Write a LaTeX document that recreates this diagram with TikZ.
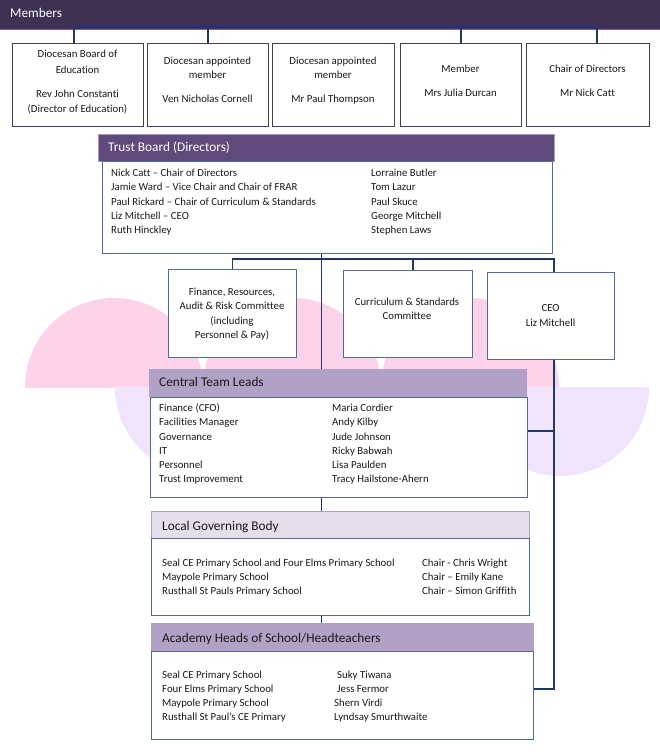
\documentclass[tikz,border=0pt]{standalone}
\usepackage{fontspec}
\setmainfont{Carlito}[Ligatures=NoCommon]
\usetikzlibrary{calc}
\definecolor{memb}{RGB}{63,49,81}
\definecolor{membedge}{RGB}{128,90,180}
\definecolor{mboxedge}{RGB}{70,62,88}
\definecolor{tbhead}{RGB}{96,74,123}
\definecolor{lilac}{RGB}{178,161,199}
\definecolor{lilacedge}{RGB}{170,150,200}
\definecolor{pale}{RGB}{229,223,236}
\definecolor{pinkbg}{RGB}{252,211,233}
\definecolor{lavbg}{RGB}{239,228,252}
\definecolor{conn}{RGB}{31,56,104}
\definecolor{edge}{RGB}{80,106,150}
\definecolor{bodytext}{RGB}{25,25,25}
\newcommand\bodyfont{\fontsize{10.8}{14}\selectfont}
\newcommand\headfont{\fontsize{13.3}{16}\selectfont}
\begin{document}
\begin{tikzpicture}[x=1pt,y=-1pt,
  bt/.style={font=\bodyfont, text=bodytext, inner sep=0pt, anchor=base west},
  ct/.style={font=\bodyfont, text=bodytext, inner sep=0pt, anchor=base},
  ht/.style={font=\headfont, inner sep=0pt, anchor=base west},
  panel/.style={draw=edge, line width=1pt, fill=white, inner sep=0pt, anchor=north west},
  mbox/.style={draw=mboxedge, line width=1pt, fill=white, inner sep=0pt, anchor=north west},
  headbar/.style={inner sep=0pt, anchor=north west},
  link/.style={draw=conn, line width=1.1pt}]
\useasboundingbox (0,0) rectangle (660,752);
\fill[white] (0,0) rectangle (660,752);
% background semicircles
\begin{scope}
  \clip (0,0) rectangle (660,387);
  \foreach \cx in {114,292,470} \fill[pinkbg] (\cx,387) circle[radius=89];
\end{scope}
\begin{scope}
  \clip (0,387) rectangle (660,752);
  \foreach \cx in {204,382,560} \fill[lavbg] (\cx,387) circle[radius=89];
\end{scope}
% Members
\node[headbar, fill=memb, draw=membedge, line width=1.2pt, minimum width=662, minimum height=30] (members) at (-1,-1) {};
\node[ht, text=white] (memberst) at (10,17.7) {Members};
\node[mbox, minimum width=131, minimum height=83] (m1) at (12,43) {};
\node[mbox, minimum width=121, minimum height=83] (m2) at (147,43) {};
\node[mbox, minimum width=122, minimum height=83] (m3) at (272,43) {};
\node[mbox, minimum width=121, minimum height=83] (m4) at (400,43) {};
\node[mbox, minimum width=123, minimum height=83] (m5) at (526,43) {};
\node[ct] (m1a) at (77.5,57.6) {Diocesan Board of};
\node[ct] (m1b) at (77.5,73.1) {Education};
\node[ct] (m1c) at (77.5,97.6) {Rev John Constanti};
\node[ct] (m1d) at (77.5,112.6) {(Director of Education)};
\node[ct] (m2a) at (207.5,64.6) {Diocesan appointed};
\node[ct] (m2b) at (207.5,78.6) {member};
\node[ct] (m2c) at (207.5,102.6) {Ven Nicholas Cornell};
\node[ct] (m3a) at (333,64.6) {Diocesan appointed};
\node[ct] (m3b) at (333,78.6) {member};
\node[ct] (m3c) at (333,102.6) {Mr Paul Thompson};
\node[ct] (m4a) at (460.5,72.6) {Member};
\node[ct] (m4b) at (460.5,96.6) {Mrs Julia Durcan};
\node[ct] (m5a) at (587.5,72.6) {Chair of Directors};
\node[ct] (m5b) at (587.5,96.6) {Mr Nick Catt};
\coordinate (railL) at (74,27);
\coordinate (railR) at (597,27);
\draw[link] (railL) -- (railR);
\draw[link] (railL) -- (railL |- m1.north);
\draw[link] (m2.north |- railL) -- (m2.north);
\draw[link] (m4.north |- railL) -- (m4.north);
\draw[link] (railR) -- (railR |- m5.north);
% Trust Board
\node[headbar, fill=tbhead, draw=lilacedge, line width=1pt, minimum width=456, minimum height=27] (tbh) at (98,134) {};
\node[ht, text=white] (tbht) at (108,151.4) {Trust Board (Directors)};
\node[panel, minimum width=450, minimum height=92] (tb) at (102,161) {};
\foreach [count=\i] \t in {Nick Catt – Chair of Directors, Jamie Ward – Vice Chair and Chair of FRAR, Paul Rickard – Chair of Curriculum \& Standards, Liz Mitchell – CEO, Ruth Hinckley}
  \node[bt] (tbl\i) at (111,{176.6+14.3*(\i-1)}) {\t};
\foreach [count=\i] \t in {Lorraine Butler, Tom Lazur, Paul Skuce, George Mitchell, Stephen Laws}
  \node[bt] (tbr\i) at (371,{176.6+14.3*(\i-1)}) {\t};
% Committees
\node[panel, minimum width=128, minimum height=88] (fin) at (168,269) {};
\node[panel, minimum width=129, minimum height=87] (cur) at (343,270) {};
\node[panel, minimum width=127, minimum height=87] (ceo) at (487,272) {};
\foreach [count=\i] \t in {{Finance, Resources,}, {Audit \& Risk Committee}, {(including}, {Personnel \& Pay)}}
  \node[ct] (fint\i) at (232,{295.6+14.2*(\i-1)}) {\t};
\node[ct] (curt1) at (407,305.6) {Curriculum \& Standards};
\node[ct] (curt2) at (407,319.8) {Committee};
\node[ct] (ceot1) at (550.5,311.6) {CEO};
\node[ct] (ceot2) at (550.5,326.4) {Liz Mitchell};
% Central Team Leads
\node[headbar, fill=lilac, minimum width=378, minimum height=28] (ctlh) at (149,369) {};
\node[ht, text=bodytext] (ctlht) at (159,386.6) {Central Team Leads};
\node[panel, minimum width=377, minimum height=100] (ctl) at (150,397) {};
\foreach [count=\i] \t in {{Finance (CFO)}, Facilities Manager, Governance, IT, Personnel, Trust Improvement}
  \node[bt] (ctll\i) at (159,{411.6+14.2*(\i-1)}) {\t};
\foreach [count=\i] \t in {Maria Cordier, Andy Kilby, Jude Johnson, Ricky Babwah, Lisa Paulden, Tracy Hailstone-Ahern}
  \node[bt] (ctlr\i) at (332,{411.6+14.2*(\i-1)}) {\t};
% Local Governing Body
\node[headbar, fill=pale, draw=lilac, line width=1pt, minimum width=378, minimum height=27] (lgbh) at (151,511) {};
\node[ht, text=bodytext] (lgbht) at (162,530.4) {Local Governing Body};
\node[panel, minimum width=378, minimum height=77] (lgb) at (151,538) {};
\foreach [count=\i] \t in {Seal CE Primary School and Four Elms Primary School, Maypole Primary School, Rusthall St Pauls Primary School}
  \node[bt] (lgbl\i) at (162,{566.6+14*(\i-1)}) {\t};
\foreach [count=\i] \t in {Chair - Chris Wright, Chair – Emily Kane, Chair – Simon Griffith}
  \node[bt] (lgbr\i) at (422,{566.6+14*(\i-1)}) {\t};
% Academy Heads
\node[headbar, fill=lilac, minimum width=383, minimum height=28] (ahh) at (151,623) {};
\node[ht, text=bodytext] (ahht) at (162,642.4) {Academy Heads of School/Headteachers};
\node[panel, minimum width=382, minimum height=88] (ah) at (151,651) {};
\foreach [count=\i] \t in {Seal CE Primary School, Four Elms Primary School, Maypole Primary School, Rusthall St Paul’s CE Primary}
  \node[bt] (ahl\i) at (162,{678.6+14*(\i-1)}) {\t};
\node[bt] (ahr1) at (337,678.6) {Suky Tiwana};
\node[bt] (ahr2) at (337,692.6) {Jess Fermor};
\node[bt] (ahr3) at (334,706.6) {Shern Virdi};
\node[bt] (ahr4) at (334,720.6) {Lyndsay Smurthwaite};
% connectors
\coordinate (spine) at (321.5,259);
\coordinate (curX) at (413,259);
\coordinate (ceoX) at (554,259);
\coordinate (ctlJ) at (554,431);
\coordinate (ahJ) at (554,689);
\draw[link] (fin.north) |- (ceoX) -- (ceoX |- ceo.north);
\draw[link] (curX) -- (curX |- cur.north);
\draw[link] (tb.south -| spine) -- (ctlh.north -| spine);
\draw[link] (ctl.south -| spine) -- (lgbh.north -| spine);
\draw[link] (lgb.south -| spine) -- (ahh.north -| spine);
\draw[link] (ceo.south -| ceoX) -- (ahJ) -- (ahJ -| ah.east);
\draw[link] (ctlJ) -- (ctlJ -| ctl.east);
\end{tikzpicture}
\end{document}
